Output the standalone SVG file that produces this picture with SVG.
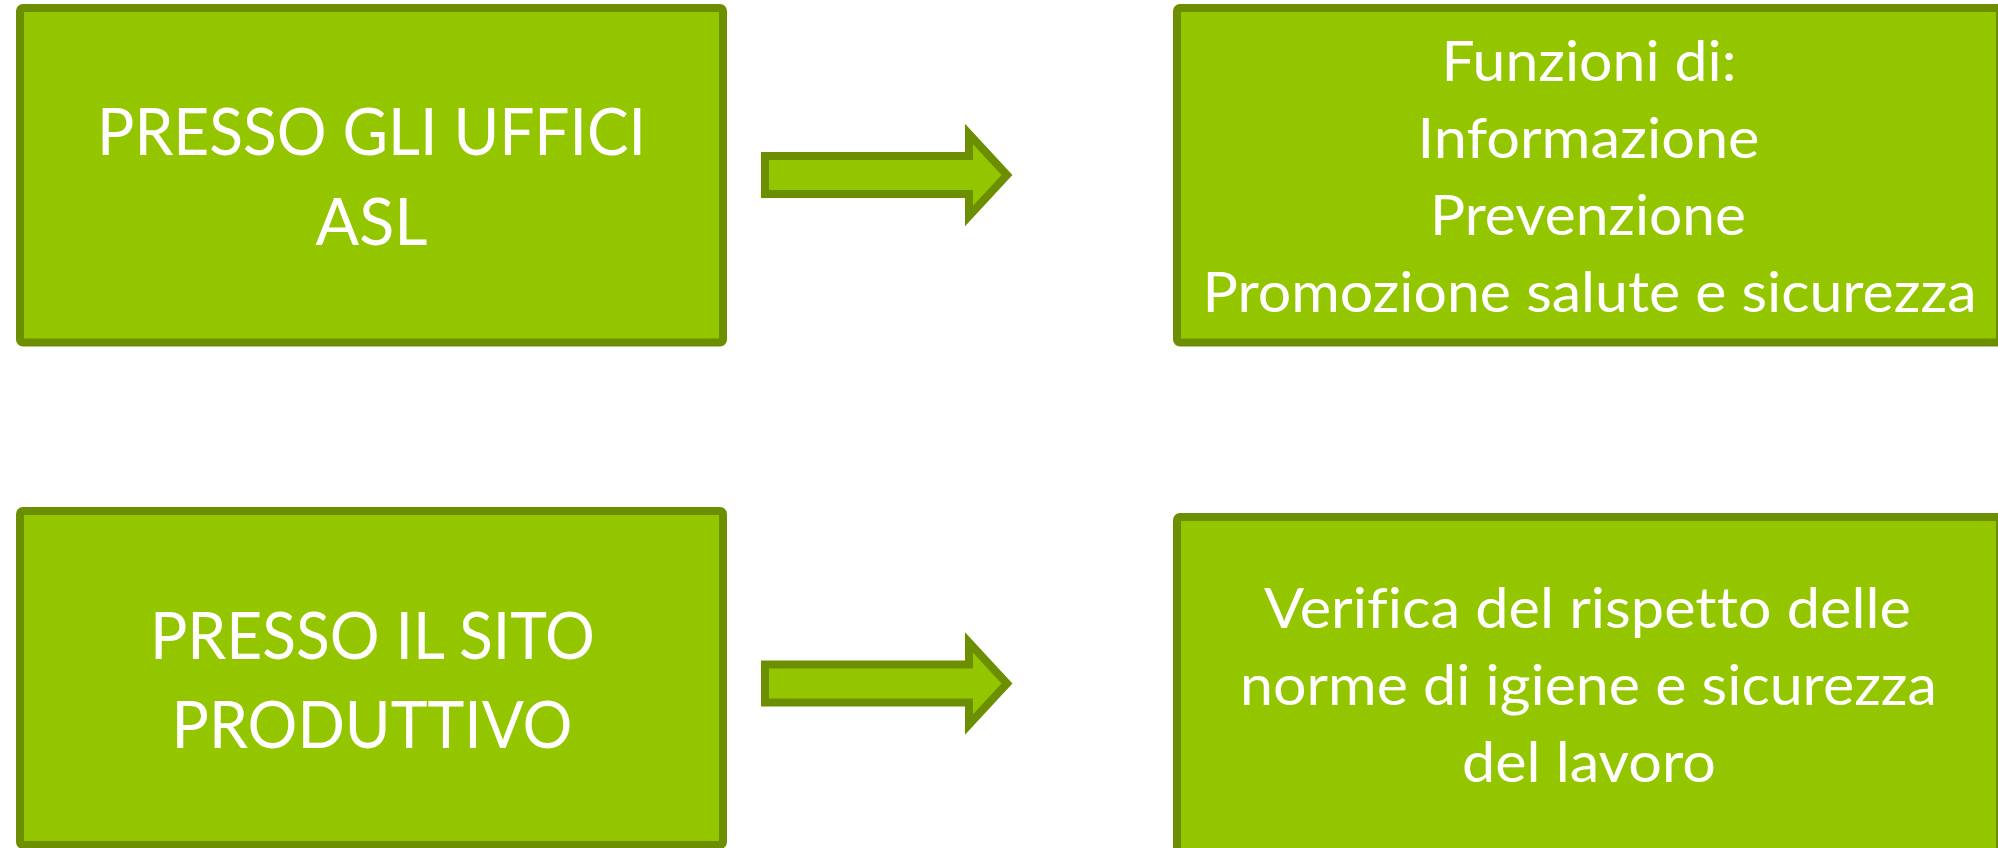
<svg xmlns="http://www.w3.org/2000/svg" width="1998" height="848" viewBox="0 0 1998 848">
<style>
.box{fill:#94C600;stroke:#6B8F00;stroke-width:8;stroke-linejoin:round}
.arrow{fill:#94C600;stroke:#6B8F00;stroke-width:8;stroke-linejoin:miter;stroke-miterlimit:10}
.big{font-family:Lato,"Liberation Sans",sans-serif;font-size:65px;fill:#FFFFFF;text-anchor:middle;font-variant-ligatures:none}
.txt{font-family:Lato,"Liberation Sans",sans-serif;font-size:56px;fill:#FFFFFF;text-anchor:middle;font-variant-ligatures:none}
</style>
<rect x="0" y="0" width="1998" height="848" fill="#FFFFFF"/>
<g id="node-uffici-asl">
<rect class="box" x="20" y="8" width="703" height="334.5" rx="3"/>
<text class="big" x="371.5" y="155" textLength="549" lengthAdjust="spacingAndGlyphs">PRESSO GLI UFFICI</text>
<text class="big" x="371.5" y="245" textLength="112" lengthAdjust="spacingAndGlyphs">ASL</text>
</g>
<g id="node-funzioni">
<rect class="box" x="1177" y="8" width="823" height="334.5" rx="3"/>
<text class="txt" x="1589" y="81" textLength="295" lengthAdjust="spacingAndGlyphs">Funzioni di:</text>
<text class="txt" x="1588.5" y="158.3" textLength="342" lengthAdjust="spacingAndGlyphs">Informazione</text>
<text class="txt" x="1588" y="235" textLength="316" lengthAdjust="spacingAndGlyphs">Prevenzione</text>
<text class="txt" x="1589.5" y="311.7" textLength="774" lengthAdjust="spacingAndGlyphs">Promozione salute e sicurezza</text>
</g>
<g id="node-sito-produttivo">
<rect class="box" x="20" y="511" width="703" height="334" rx="3"/>
<text class="big" x="372.4" y="659" textLength="445" lengthAdjust="spacingAndGlyphs">PRESSO IL SITO</text>
<text class="big" x="372" y="748.3" textLength="401" lengthAdjust="spacingAndGlyphs">PRODUTTIVO</text>
</g>
<g id="node-verifica">
<rect class="box" x="1177" y="517" width="823" height="340" rx="3"/>
<text class="txt" x="1587.4" y="628.3" textLength="647" lengthAdjust="spacingAndGlyphs">Verifica del rispetto delle</text>
<text class="txt" x="1588.5" y="705" textLength="697" lengthAdjust="spacingAndGlyphs">norme di igiene e sicurezza</text>
<text class="txt" x="1589" y="781.7" textLength="254" lengthAdjust="spacingAndGlyphs">del lavoro</text>
</g>
<g id="connectors">
<polygon class="arrow" points="765,156 969,156 969,134 1007,175 969,216 969,194 765,194"/>
<polygon class="arrow" points="765,664.5 969,664.5 969,642.5 1007,683.5 969,724.5 969,702.5 765,702.5"/>
</g>
</svg>
